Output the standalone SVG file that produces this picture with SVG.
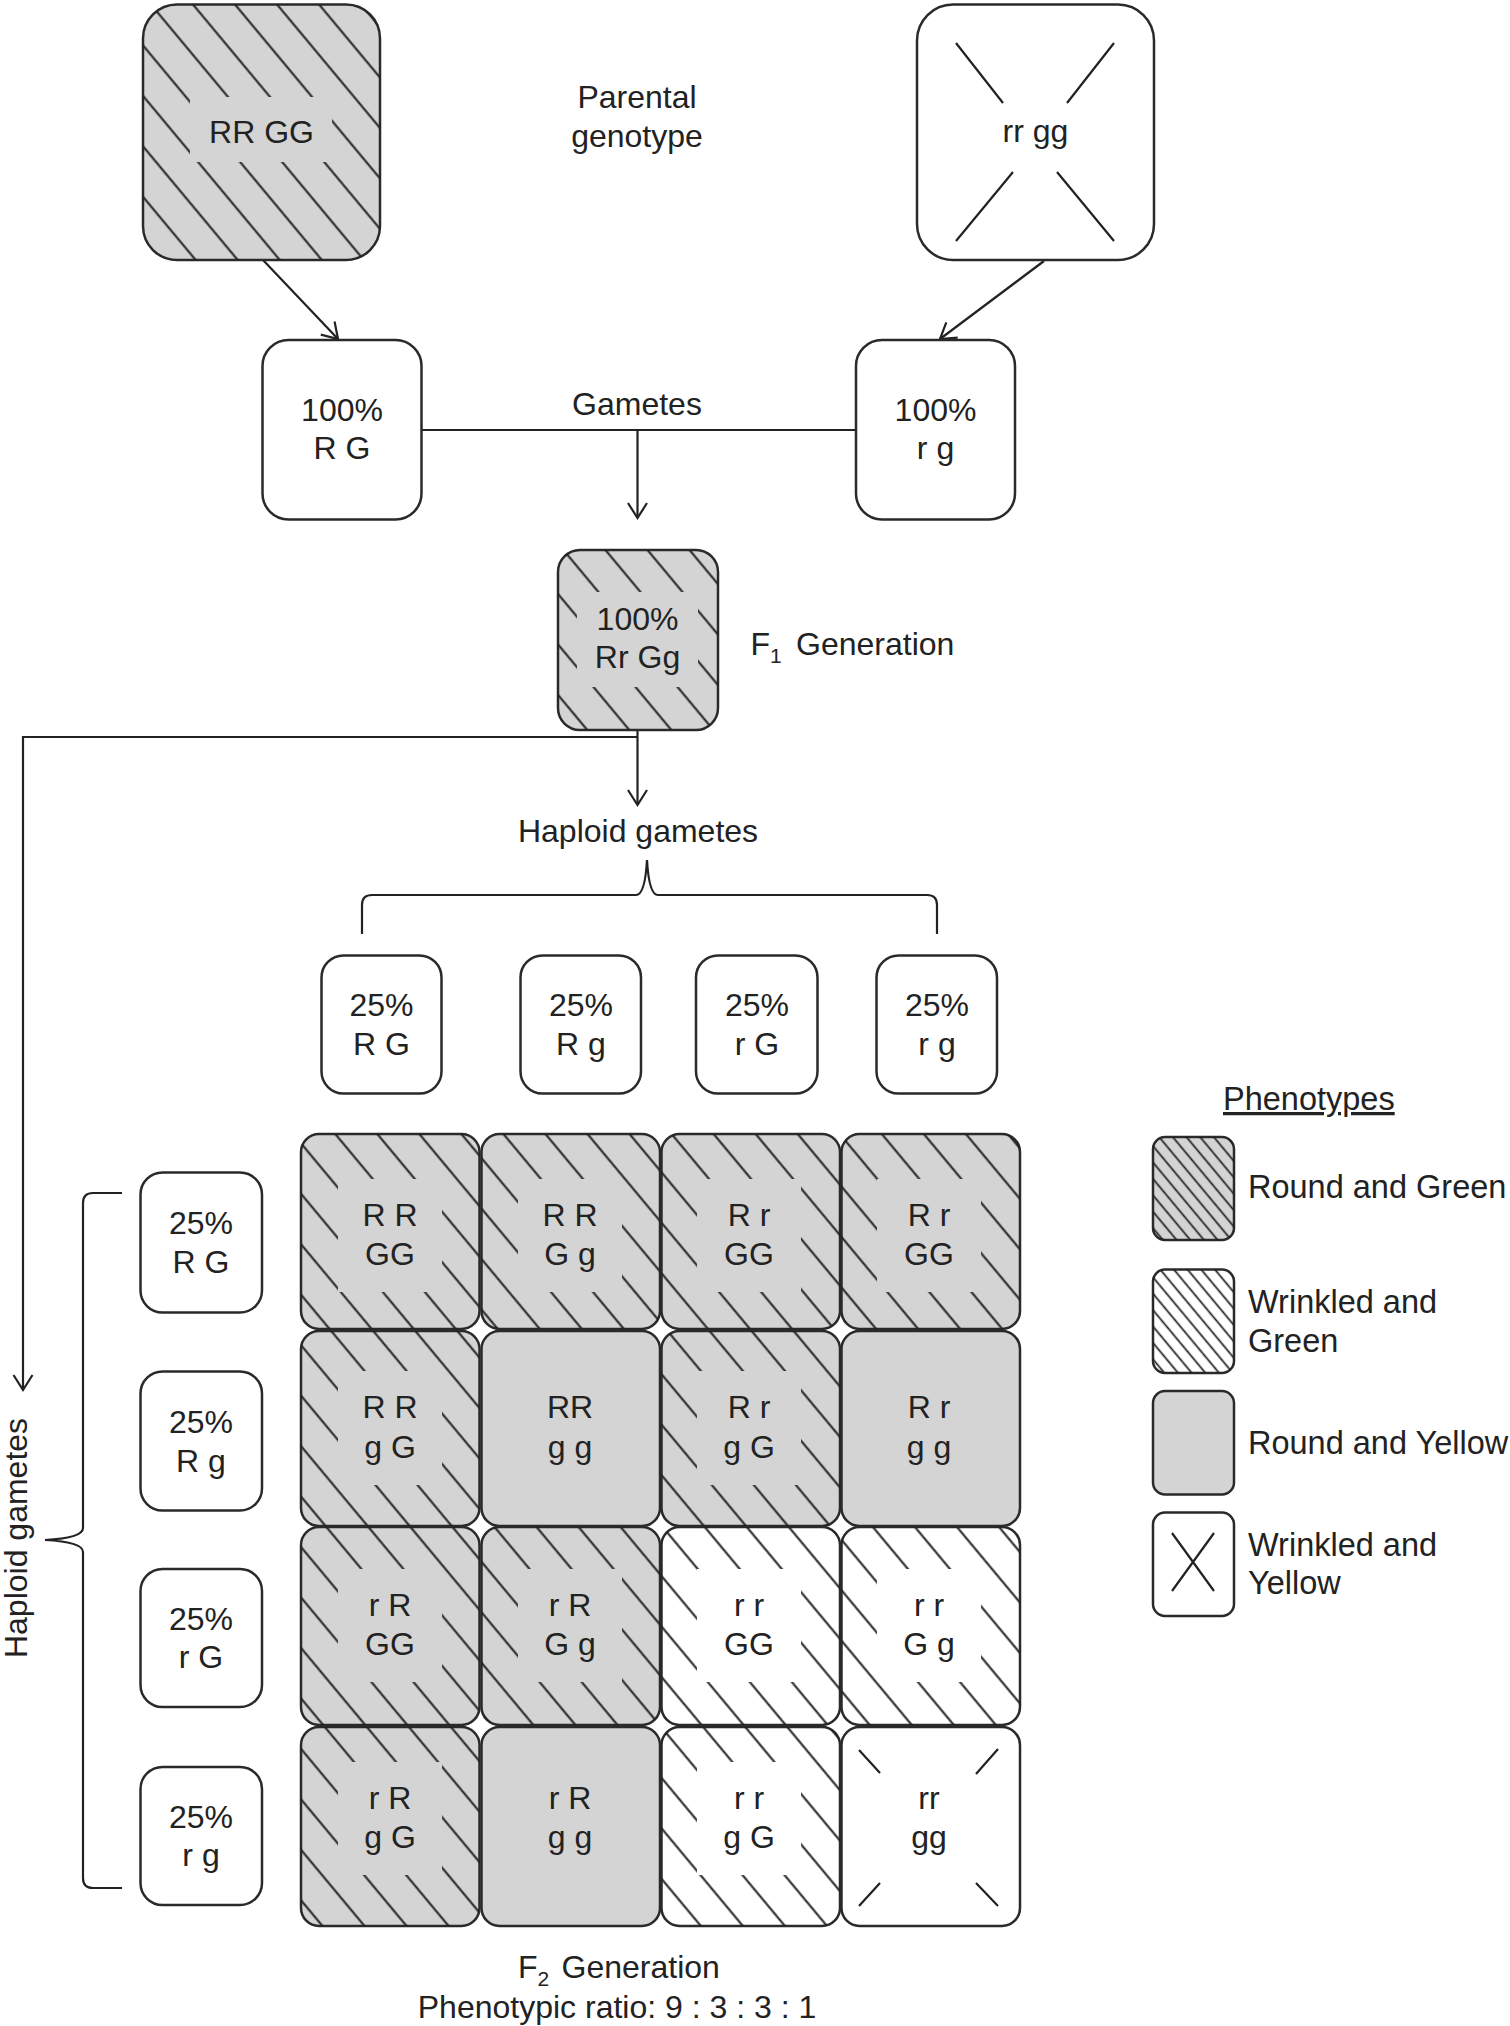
<svg xmlns="http://www.w3.org/2000/svg" width="1510" height="2026" viewBox="0 0 1510 2026">
<defs>
<style>
.t{font-family:"Liberation Sans",Arial,Helvetica,sans-serif;font-size:32px;fill:#222;text-anchor:middle}
.s{font-family:"Liberation Sans",Arial,Helvetica,sans-serif;font-size:32px;fill:#222}
.sub{font-family:"Liberation Sans",Arial,Helvetica,sans-serif;font-size:21px;fill:#222}
.l{font-family:"Liberation Sans",Arial,Helvetica,sans-serif;font-size:32.5px;fill:#222}
.nb{stroke:#2a2a2a;stroke-width:2.5}
.g{fill:#d4d4d4}
.w{fill:#fff}
.h{fill:url(#hatch)}
.hs{fill:url(#hatchS)}
.c{fill:none;stroke:#222;stroke-width:2.2}
.x{stroke:#222;stroke-width:2.2;fill:none}
</style>
<pattern id="hatch" width="32.3" height="20" patternUnits="userSpaceOnUse" patternTransform="rotate(-39.8)"><rect x="15.2" y="0" width="2" height="20" fill="#1e1e1e"/></pattern>
<pattern id="hatchS" width="10.5" height="20" patternUnits="userSpaceOnUse" patternTransform="rotate(-39.8)"><rect x="4.4" y="0" width="1.7" height="20" fill="#1e1e1e"/></pattern>
<marker id="arr" markerUnits="userSpaceOnUse" markerWidth="20" markerHeight="24" viewBox="-17 -12 20 24" refX="0" refY="0" orient="auto" overflow="visible"><path d="M-15,-9.5 L0,0 L-15,9.5" fill="none" stroke="#222" stroke-width="2.2"/></marker>
</defs>
<rect x="0" y="0" width="1510" height="2026" fill="#fff"/>

<g id="connectors">
<path class="c" d="M263,260 L338,339" marker-end="url(#arr)"/>
<path class="c" d="M1044,261 L940,339" marker-end="url(#arr)"/>
<path class="c" d="M421.5,430 L856,430"/>
<path class="c" d="M637.5,430 L637.5,518" marker-end="url(#arr)"/>
<path class="c" d="M637.5,730 L637.5,805" marker-end="url(#arr)"/>
<path class="c" d="M637.5,737 L23,737 L23,1390" marker-end="url(#arr)"/>
<path class="c" d="M362,934 L362,905 Q362,895 372,895 L636,895 Q645,895 647,860 Q649,895 658,895 L927,895 Q937,895 937,905 L937,934"/>
<path class="c" d="M122,1193 L93,1193 Q83,1193 83,1203 L83,1528 Q83,1538 45,1540 Q83,1542 83,1552 L83,1878 Q83,1888 93,1888 L122,1888"/>
</g>

<g id="labels">
<text class="t" x="637" y="108">Parental</text>
<text class="t" x="637" y="147">genotype</text>
<text class="t" x="637" y="415">Gametes</text>
<text class="s" x="750.5" y="655">F</text><text class="sub" x="770" y="663">1</text><text class="s" x="796" y="655">Generation</text>
<text class="t" x="638" y="842">Haploid gametes</text>
<text class="t" transform="translate(27,1538) rotate(-90)">Haploid gametes</text>
<text class="s" x="518" y="1978">F</text><text class="sub" x="537.5" y="1986">2</text><text class="s" x="561.5" y="1978">Generation</text>
<text class="t" x="617" y="2018">Phenotypic ratio: 9 : 3 : 3 : 1</text>
</g>

<g id="parent-RRGG">
<rect class="g nb" x="143" y="4.5" width="237" height="255.5" rx="34"/>
<rect class="h" x="143" y="4.5" width="237" height="255.5" rx="34"/>
<rect class="g" x="190" y="97" width="142" height="65"/>
<text class="t" x="261.5" y="143">RR GG</text>
</g>
<g id="parent-rrgg">
<rect class="w nb" x="917" y="4.5" width="237" height="255.5" rx="36"/>
<path class="x" d="M956,43 L1003,103 M1114,43 L1067,103 M1013,172 L956,241 M1057,172 L1114,241"/>
<text class="t" x="1035.5" y="142">rr gg</text>
</g>

<g id="gamete-RG">
<rect class="w nb" x="262.5" y="340" width="159" height="179.5" rx="26"/>
<text class="t" x="342" y="421">100%</text>
<text class="t" x="342" y="459">R G</text>
</g>
<g id="gamete-rg">
<rect class="w nb" x="856" y="340" width="159" height="179.5" rx="26"/>
<text class="t" x="935.5" y="421">100%</text>
<text class="t" x="935.5" y="459">r g</text>
</g>

<g id="f1">
<rect class="g nb" x="558" y="550" width="160" height="180" rx="22"/>
<rect class="h" x="558" y="550" width="160" height="180" rx="22"/>
<rect class="g" x="577" y="592" width="121" height="95"/>
<text class="t" x="637.5" y="630">100%</text>
<text class="t" x="637.5" y="668">Rr Gg</text>
</g>

<g id="top-gametes">
<g id="tg1"><rect class="w nb" x="321.5" y="955.5" width="120" height="138" rx="22"/><text class="t" x="381.5" y="1016">25%</text><text class="t" x="381.5" y="1055">R G</text></g>
<g id="tg2"><rect class="w nb" x="520.5" y="955.5" width="120.5" height="138" rx="22"/><text class="t" x="581" y="1016">25%</text><text class="t" x="581" y="1055">R g</text></g>
<g id="tg3"><rect class="w nb" x="696" y="955.5" width="121.5" height="138" rx="22"/><text class="t" x="757" y="1016">25%</text><text class="t" x="757" y="1055">r G</text></g>
<g id="tg4"><rect class="w nb" x="876.5" y="955.5" width="120.5" height="138" rx="22"/><text class="t" x="937" y="1016">25%</text><text class="t" x="937" y="1055">r g</text></g>
</g>

<g id="left-gametes">
<g id="lg1"><rect class="w nb" x="140.5" y="1172.5" width="121.5" height="140" rx="22"/><text class="t" x="201" y="1234">25%</text><text class="t" x="201" y="1272.5">R G</text></g>
<g id="lg2"><rect class="w nb" x="140.5" y="1371.5" width="121.5" height="139" rx="22"/><text class="t" x="201" y="1432.5">25%</text><text class="t" x="201" y="1471.5">R g</text></g>
<g id="lg3"><rect class="w nb" x="140.5" y="1569" width="121.5" height="138" rx="22"/><text class="t" x="201" y="1629.5">25%</text><text class="t" x="201" y="1668">r G</text></g>
<g id="lg4"><rect class="w nb" x="140.5" y="1767" width="121.5" height="138" rx="22"/><text class="t" x="201" y="1827.5">25%</text><text class="t" x="201" y="1866">r g</text></g>
</g>

<g id="punnett">
<g id="c11"><rect class="g nb" x="301" y="1134" width="178.5" height="195" rx="18"/><rect class="h" x="301" y="1134" width="178.5" height="195" rx="18"/><rect class="g" x="338" y="1179" width="104" height="113"/><text class="t" x="390" y="1226">R R</text><text class="t" x="390" y="1265">GG</text></g>
<g id="c12"><rect class="g nb" x="481.5" y="1134" width="178.5" height="195" rx="18"/><rect class="h" x="481.5" y="1134" width="178.5" height="195" rx="18"/><rect class="g" x="518" y="1179" width="104" height="113"/><text class="t" x="570" y="1226">R R</text><text class="t" x="570" y="1265">G g</text></g>
<g id="c13"><rect class="g nb" x="661.5" y="1134" width="178.5" height="195" rx="18"/><rect class="h" x="661.5" y="1134" width="178.5" height="195" rx="18"/><rect class="g" x="697" y="1179" width="104" height="113"/><text class="t" x="749" y="1226">R r</text><text class="t" x="749" y="1265">GG</text></g>
<g id="c14"><rect class="g nb" x="841.5" y="1134" width="178.5" height="195" rx="18"/><rect class="h" x="841.5" y="1134" width="178.5" height="195" rx="18"/><rect class="g" x="877" y="1179" width="104" height="113"/><text class="t" x="929" y="1226">R r</text><text class="t" x="929" y="1265">GG</text></g>

<g id="c21"><rect class="g nb" x="301" y="1331" width="178.5" height="195" rx="18"/><rect class="h" x="301" y="1331" width="178.5" height="195" rx="18"/><rect class="g" x="338" y="1371" width="104" height="114"/><text class="t" x="390" y="1418">R R</text><text class="t" x="390" y="1458">g G</text></g>
<g id="c22"><rect class="g nb" x="481.5" y="1331" width="178.5" height="195" rx="18"/><text class="t" x="570" y="1418">RR</text><text class="t" x="570" y="1458">g g</text></g>
<g id="c23"><rect class="g nb" x="661.5" y="1331" width="178.5" height="195" rx="18"/><rect class="h" x="661.5" y="1331" width="178.5" height="195" rx="18"/><rect class="g" x="697" y="1371" width="104" height="114"/><text class="t" x="749" y="1418">R r</text><text class="t" x="749" y="1458">g G</text></g>
<g id="c24"><rect class="g nb" x="841.5" y="1331" width="178.5" height="195" rx="18"/><text class="t" x="929" y="1418">R r</text><text class="t" x="929" y="1458">g g</text></g>

<g id="c31"><rect class="g nb" x="301" y="1527" width="178.5" height="198" rx="18"/><rect class="h" x="301" y="1527" width="178.5" height="198" rx="18"/><rect class="g" x="338" y="1569" width="104" height="113"/><text class="t" x="390" y="1616">r R</text><text class="t" x="390" y="1655">GG</text></g>
<g id="c32"><rect class="g nb" x="481.5" y="1527" width="178.5" height="198" rx="18"/><rect class="h" x="481.5" y="1527" width="178.5" height="198" rx="18"/><rect class="g" x="518" y="1569" width="104" height="113"/><text class="t" x="570" y="1616">r R</text><text class="t" x="570" y="1655">G g</text></g>
<g id="c33"><rect class="w nb" x="661.5" y="1527" width="178.5" height="198" rx="18"/><rect class="h" x="661.5" y="1527" width="178.5" height="198" rx="18"/><rect class="w" x="697" y="1569" width="104" height="113"/><text class="t" x="749" y="1616">r r</text><text class="t" x="749" y="1655">GG</text></g>
<g id="c34"><rect class="w nb" x="841.5" y="1527" width="178.5" height="198" rx="18"/><rect class="h" x="841.5" y="1527" width="178.5" height="198" rx="18"/><rect class="w" x="877" y="1569" width="104" height="113"/><text class="t" x="929" y="1616">r r</text><text class="t" x="929" y="1655">G g</text></g>

<g id="c41"><rect class="g nb" x="301" y="1727" width="178.5" height="199" rx="18"/><rect class="h" x="301" y="1727" width="178.5" height="199" rx="18"/><rect class="g" x="338" y="1762" width="104" height="113"/><text class="t" x="390" y="1809">r R</text><text class="t" x="390" y="1848">g G</text></g>
<g id="c42"><rect class="g nb" x="481.5" y="1727" width="178.5" height="199" rx="18"/><text class="t" x="570" y="1809">r R</text><text class="t" x="570" y="1848">g g</text></g>
<g id="c43"><rect class="w nb" x="661.5" y="1727" width="178.5" height="199" rx="18"/><rect class="h" x="661.5" y="1727" width="178.5" height="199" rx="18"/><rect class="w" x="697" y="1762" width="104" height="113"/><text class="t" x="749" y="1809">r r</text><text class="t" x="749" y="1848">g G</text></g>
<g id="c44"><rect class="w nb" x="841.5" y="1727" width="178.5" height="199" rx="18"/><path class="x" d="M859,1750 L880,1773 M998,1749 L976,1774 M880,1883 L859,1906 M976,1883 L998,1906"/><text class="t" x="929" y="1809">rr</text><text class="t" x="929" y="1848">gg</text></g>
</g>

<g id="legend">
<text class="l" x="1223" y="1110" font-size="33" text-decoration="underline">Phenotypes</text>
<g id="leg-round-green"><rect class="g nb" x="1153" y="1137" width="81" height="103" rx="12"/><rect class="hs" x="1153" y="1137" width="81" height="103" rx="12"/><text class="l" x="1248" y="1198">Round and Green</text></g>
<g id="leg-wrinkled-green"><rect class="w nb" x="1153" y="1269.5" width="81" height="103.5" rx="12"/><rect class="hs" x="1153" y="1269.5" width="81" height="103.5" rx="12"/><text class="l" x="1248" y="1312.5">Wrinkled and</text><text class="l" x="1248" y="1352">Green</text></g>
<g id="leg-round-yellow"><rect class="g nb" x="1153" y="1391" width="81" height="103.5" rx="12"/><text class="l" x="1248" y="1453.5">Round and Yellow</text></g>
<g id="leg-wrinkled-yellow"><rect class="w nb" x="1153" y="1512.5" width="81" height="103.5" rx="12"/><path class="x" d="M1172,1533 L1214,1591 M1214,1533 L1172,1591"/><text class="l" x="1248" y="1555.5">Wrinkled and</text><text class="l" x="1248" y="1594">Yellow</text></g>
</g>
</svg>
